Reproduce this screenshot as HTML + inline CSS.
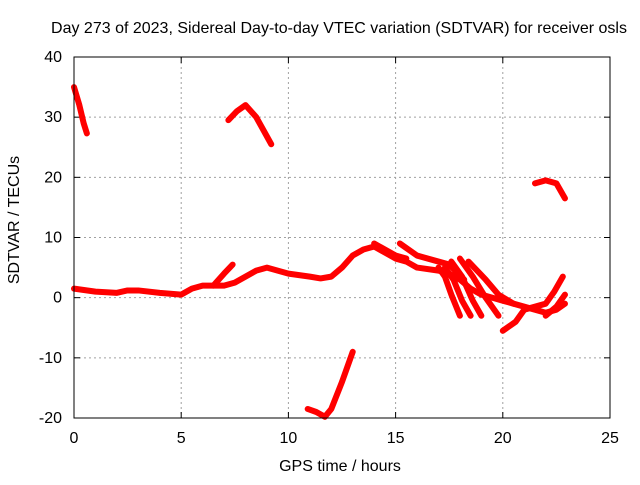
<!DOCTYPE html>
<html><head><meta charset="utf-8"><style>
body{margin:0;background:#fff}
svg text{font-family:"Liberation Sans",sans-serif;font-size:16px;fill:#000}
</style></head><body>
<svg id="chart" width="640" height="480">
<rect width="640" height="480" fill="#fff"/>
<g id="grid"></g><g id="axes"></g><g id="series"></g>
<rect x="74" y="57" width="536" height="361" fill="none" stroke="#000"/>
<text x="339" y="33" text-anchor="middle">Day 273 of 2023, Sidereal Day-to-day VTEC variation (SDTVAR) for receiver osls</text>
<text x="340" y="471" text-anchor="middle">GPS time / hours</text>
<text x="19" y="220" text-anchor="middle" transform="rotate(-90 19 220)">SDTVAR / TECUs</text>
</svg>
<script>
const xTicks=[0,5,10,15,20,25];
const yTicks=[-20,-10,0,10,20,30,40];
const trackA=[[0,35],[0.25,32],[0.45,29],[0.6,27.3]];
const trackB=[[7.2,29.5],[7.6,31],[8,32],[8.5,30],[9.2,25.5]];
const trackC=[[21.5,19],[22,19.5],[22.5,19],[22.9,16.5]];
const trackD=[[10.9,-18.5],[11.3,-19],[11.7,-19.8],[12,-18.5],[12.5,-14],[13,-9]];
const trackMain=[[0,1.5],[1,1],[2,0.8],[2.5,1.2],[3,1.2],[4,0.8],[5,0.5],[5.5,1.5],[6,2],[6.5,2],[7,2],[7.5,2.5],[8,3.5],[8.5,4.5],[9,5],[9.5,4.5],[10,4],[11,3.5],[11.5,3.2],[12,3.5],[12.5,5],[13,7],[13.5,8],[14,8.5],[14.5,7.5],[15,6.5],[15.5,6],[16,5],[17,4.5],[17.5,4],[18,3],[18.5,1.5],[19,0.5],[19.5,0],[20,-0.5],[20.5,-1],[21,-1.5],[21.5,-2],[22,-2.5],[22.5,-2],[22.9,-1]];
const trackE=[[6.5,2],[7,4],[7.4,5.5]];
const trackF=[[14,9],[15,7],[15.5,6.5]];
const trackG=[[15.2,9],[16,7],[17,6],[17.5,5.5],[18.2,3]];
const trackH=[[17,5],[17.3,3.5],[17.6,0.5],[18,-3]];
const trackI=[[17.3,5],[17.7,3],[18.1,-0.5],[18.5,-3]];
const trackJ=[[17.6,6],[18.1,3.5],[18.6,-0.5],[19,-3]];
const trackK=[[18,6.5],[18.6,3.5],[19.2,0],[19.8,-3]];
const trackL=[[18.4,6],[19.2,3],[19.8,0.5],[20.5,-1]];
const trackM=[[20,-5.5],[20.6,-4],[21,-2],[22,-1],[22.4,1],[22.8,3.5]];
const trackN=[[22,-3],[22.5,-1.5],[22.9,0.5]];
const tracks=[trackA,trackB,trackC,trackD,trackMain,trackE,trackF,trackG,trackH,trackI,trackJ,trackK,trackL,trackM,trackN];
const X=v=>74+v*536/25, Y=v=>57+(40-v)*361/60;
const ns="http://www.w3.org/2000/svg";
const grid=document.getElementById('grid'),axes=document.getElementById('axes'),ser=document.getElementById('series');
function mk(tag,attrs,parent){const e=document.createElementNS(ns,tag);for(const k in attrs)e.setAttribute(k,attrs[k]);parent.appendChild(e);return e;}
xTicks.forEach(t=>{const x=X(t);
 if(t>0&&t<25){const g=mk('line',{x1:x,x2:x,y1:57,y2:418,stroke:'#a0a0a0','stroke-dasharray':'2,3'},grid);
 
 }
 mk('line',{x1:x,x2:x,y1:418,y2:412,stroke:'#000'},axes);mk('line',{x1:x,x2:x,y1:57,y2:63,stroke:'#000'},axes);
 const tx=mk('text',{x:x,y:443,'text-anchor':'middle'},axes);tx.textContent=t;
 
 });
yTicks.forEach(t=>{const y=Y(t);
 if(t>-20&&t<40){const g=mk('line',{x1:74,x2:610,y1:y,y2:y,stroke:'#a0a0a0','stroke-dasharray':'2,3'},grid);
 
 }
 mk('line',{x1:74,x2:80,y1:y,y2:y,stroke:'#000'},axes);mk('line',{x1:610,x2:604,y1:y,y2:y,stroke:'#000'},axes);
 const tx=mk('text',{x:62,y:y+5,'text-anchor':'end'},axes);tx.textContent=t;
 
 });
tracks.forEach(tr=>{const p=mk('polyline',{points:tr.map(d=>X(d[0])+','+Y(d[1])).join(' '),fill:'none',stroke:'#f00','stroke-width':6,'stroke-linejoin':'round','stroke-linecap':'round'},ser);
 
 });
</script>
</body></html>
